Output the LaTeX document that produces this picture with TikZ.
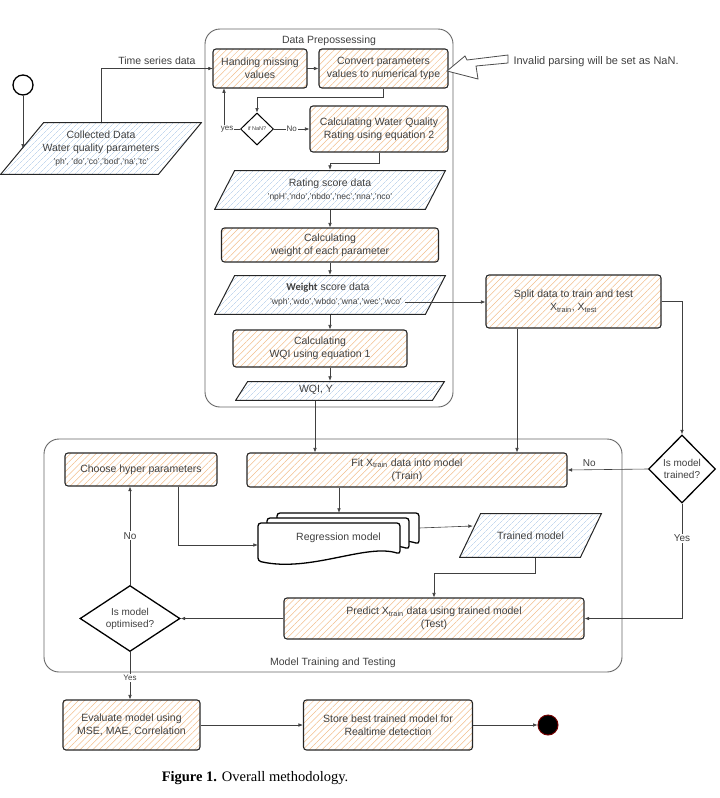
\documentclass[tikz,border=0pt]{standalone}
\usepackage{fontspec}
\setmainfont{Liberation Sans}
\newfontfamily\capfont{Liberation Serif}
\newfontfamily\wtfont{Carlito}
\usetikzlibrary{shapes.geometric,arrows.meta,patterns.meta}

\definecolor{hatchor}{RGB}{242,190,140}
\definecolor{hatchbl}{RGB}{165,195,230}
\definecolor{inkgray}{RGB}{64,64,64}

\newcommand{\listfs}{\fontsize{8.5}{10}\selectfont}
\newcommand{\smallfs}{\fontsize{8}{9}\selectfont}
\newcommand{\nanfs}{\fontsize{5.5}{6}\selectfont}
\newcommand{\diafs}{\fontsize{10}{12}\selectfont}

\tikzset{
  proc/.style={draw=black!85, line width=1.1pt, rounded corners=3pt,
    pattern={Lines[angle=45,distance=4.5pt,line width=0.5pt]}, pattern color=hatchor,
    align=center, inner sep=0pt},
  % slanted data box, #1 = horizontal slant
  datap/.style={inner sep=0pt, align=center, path picture={
    \draw[draw=black!85, line width=1pt,
      pattern={Lines[angle=45,distance=4pt,line width=0.4pt]}, pattern color=hatchbl]
      ([xshift=#1+0.6pt,yshift=-0.6pt]path picture bounding box.north west)
      -- ([xshift=-0.6pt,yshift=-0.6pt]path picture bounding box.north east)
      -- ([xshift=-#1-0.6pt,yshift=0.6pt]path picture bounding box.south east)
      -- ([xshift=0.6pt,yshift=0.6pt]path picture bounding box.south west) -- cycle;}},
  choice/.style={diamond, draw=black, line width=1.3pt, align=center, inner sep=0pt, font=\diafs},
  group/.style={draw=black!60, line width=0.9pt, rounded corners=15pt},
  doc/.style={draw=black, line width=1.3pt, fill=white, rounded corners=3pt},
  arr/.style={draw=inkgray, line width=0.6pt, -{Latex[length=4.5pt,width=3.6pt]}},
  lbl/.style={inner sep=1pt, fill=white},
}

\begin{document}
\begin{tikzpicture}[x=1pt, y=-1pt, font=\fontsize{10.5}{13}\selectfont, text=inkgray]
  \useasboundingbox (0,0) rectangle (720,798);

  % --- Containers ---
  \draw[group] (205,29) rectangle (453,407);
  \node (preptitle) at (329,41) {Data Prepossessing};
  \draw[group] (44,439) rectangle (622,672);
  \node (traintitle) at (333,663) {Model Training and Testing};

  % --- Input ---
  \node[circle, draw=black, line width=1.3pt, minimum size=20pt, inner sep=0pt] (start) at (23,85) {};
  \node[datap=43pt, minimum width=202pt, minimum height=53pt] (collected) at (101,148.5)
        {Collected Data\\Water quality parameters\\{\listfs 'ph', 'do','co','bod','na','tc'}};

  % --- Data prepossessing ---
  \node[proc, minimum width=94pt, minimum height=39pt] (handling) at (260,68.5) {Handing missing\\values};
  \node[proc, minimum width=129pt, minimum height=39pt] (convert) at (383.5,68.5) {Convert parameters\\values to numerical type};
  \node[choice, minimum width=33pt, minimum height=32pt, line width=1pt] (nan) at (257,129) {\nanfs if NaN?};
  \node[proc, minimum width=138pt, minimum height=46pt] (wqrate) at (379,129) {Calculating Water Quality\\Rating using equation 2};
  \node[datap=20pt, minimum width=232pt, minimum height=40pt] (rating) at (330,190)
        {Rating score data\\{\listfs 'npH','ndo','nbdo','nec','nna','nco'}};
  \node[proc, minimum width=217pt, minimum height=34pt] (wcalc) at (330,245) {Calculating\\weight of each parameter};
  \node[datap=20pt, minimum width=232pt, minimum height=40pt] (weight) at (330,295) {};
  \node (wtitle) at (328,288) {{\wtfont\bfseries Weight} score data};
  \node[font=\listfs] (wlist) at (336,302) {'wph','wdo','wbdo','wna','wec','wco'};
  \node[proc, minimum width=174pt, minimum height=37pt] (wqicalc) at (320,348.5) {Calculating\\WQI using equation 1};
  \node[datap=12pt, minimum width=210pt, minimum height=20pt] (wqiy) at (340,391) {};
  \node (wqitext) at (316,390) {WQI, Y};

  % invalid parsing note
  \draw[line width=0.8pt, draw=black!70, fill=white]
    (447,71) -- (465,56) -- (467,60) -- (508,55) -- (508,63) -- (476,66) -- (478,79) -- cycle;
  \node[anchor=west, font=\fontsize{11}{13}\selectfont] (nanote) at (510,62) {Invalid parsing will be set as NaN.};

  % --- Split / check ---
  \node[proc, minimum width=175pt, minimum height=53pt] (split) at (573.5,301.5)
        {Split data to train and test\\X\textsubscript{train}, X\textsubscript{test}};
  \node[choice, minimum width=67pt, minimum height=68pt] (trained) at (682,469) {Is model\\trained?};

  % --- Model training and testing ---
  \node[proc, minimum width=152pt, minimum height=33pt] (choose) at (141,469.5) {Choose hyper parameters};
  \node[proc, minimum width=320pt, minimum height=34pt] (fit) at (407,470) {Fit X\textsubscript{train} data into model\\(Train)};

  % stacked documents
  \foreach \dx/\dy in {19/0,9/5,0/10}
    \draw[doc, shift={(258+\dx,513+\dy)}] (0,0) -- (142,0) -- (142,31)
      .. controls (108,20) and (52,50) .. (0,38) -- cycle;
  \node[minimum width=161pt, minimum height=49pt, inner sep=0pt] (regr) at (338.5,537.5) {Regression model};

  \node[datap=21pt, minimum width=143pt, minimum height=45pt] (tmodel) at (530.5,535.5) {Trained model};
  \node[proc, minimum width=300pt, minimum height=41pt] (predict) at (434,618.5)
        {Predict X\textsubscript{train} data using trained model\\(Test)};
  \node[choice, minimum width=100pt, minimum height=66pt, aspect=1.5] (optim) at (130,618.5) {Is model\\optimised?};

  % --- Evaluation ---
  \node[proc, minimum width=137pt, minimum height=50pt] (eval) at (131.5,725) {Evaluate model using\\MSE, MAE, Correlation};
  \node[proc, minimum width=169pt, minimum height=50pt] (store) at (388,725) {Store best trained model for\\Realtime detection};
  \node[circle, fill=black, draw=red!45!black, line width=1pt, minimum size=20pt, inner sep=0pt] (finish) at (548,725) {};

  \node[font={\capfont\fontsize{14.5}{16}\selectfont}, text=black] (caption) at (255,778) {\textbf{Figure 1.} Overall methodology.};

  % --- Connectors ---
  \draw[arr] (start) -- (start |- collected.west);
  \draw[arr] (collected.north) |- (handling.west) node[pos=0.75, above] {Time series data};
  \draw[arr] (handling) -- (convert);
  \draw[arr] (convert.south) -- ++(0,9) -| (nan.north);
  \draw[arr] (nan.west) -| ([xshift=-36pt]handling.south) node[pos=0.4, lbl, font=\smallfs] {yes};
  \draw[arr] (nan.east) -- (wqrate.west) node[midway, lbl, font=\smallfs] {No};
  \draw[arr] (wqrate.south) -- ++(0,11) -| (rating.north);
  \draw[arr] (rating) -- (wcalc);
  \draw[arr] (wcalc) -- (weight);
  \draw[arr] (weight.south) -- (weight.south |- wqicalc.north);
  \draw[arr] (wqicalc.south -| weight.south) -- (weight.south |- wqiy.north);
  \draw[arr] ([xshift=-25pt]wqiy.south) -- ([xshift=-25pt]wqiy.south |- fit.north);
  \draw[arr] (wlist.east) -- (wlist.east -| split.west);
  \draw[arr] ([xshift=-56.5pt]split.south) -- ([xshift=-56.5pt]split.south |- fit.north);
  \draw[arr] (split.east) -| (trained.north);
  \draw[arr] (trained.west) -- (fit.east) node[pos=0.73, above, font=\diafs] {No};
  \draw[arr] (trained.south) |- (predict.east) node[pos=0.15, lbl, font=\diafs] {Yes};
  \draw[arr] ([xshift=-68pt]fit.south) -- ([xshift=-68pt]fit.south |- regr.north);
  \draw[arr] ([xshift=37pt]choose.south) |- ([yshift=-7.5pt]regr.west);
  \draw[arr] ([yshift=9.5pt]regr.east) -- ([xshift=14pt,yshift=9.5pt]tmodel.west);
  \draw[arr] ([xshift=4.5pt]tmodel.south) -- ++(0,15) -| (predict.north);
  \draw[arr] (predict) -- (optim);
  \draw[arr] (optim.north) -- (optim.north |- choose.south) node[midway, lbl, font=\diafs] {No};
  \draw[arr] (optim.south) -- (optim.south |- eval.north) node[pos=0.55, lbl, font=\smallfs] {Yes};
  \draw[arr] (eval) -- (store);
  \draw[arr] (store) -- (finish);
\end{tikzpicture}
\end{document}
